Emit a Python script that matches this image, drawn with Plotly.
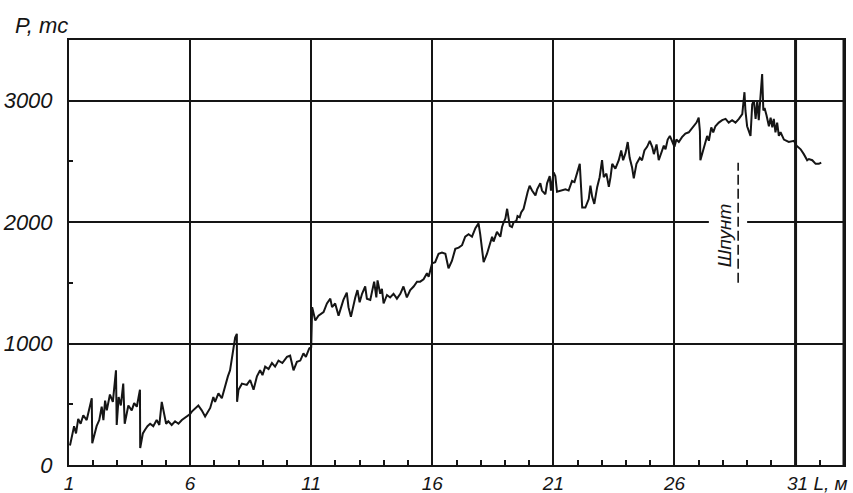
import plotly.graph_objects as go

# ---- data ----
L_m = [1.04, 1.21, 1.29, 1.38, 1.48, 1.59, 1.73, 1.94, 1.96, 2.14, 2.25, 2.35, 2.42, 2.49, 2.56, 2.69, 2.81, 2.94, 2.97,
       3.05, 3.14, 3.24, 3.30, 3.45, 3.59, 3.69, 3.80, 3.93, 3.94, 4.05, 4.14, 4.24, 4.35, 4.48, 4.62, 4.73, 4.83, 4.93,
       5.01, 5.10, 5.24, 5.38, 5.52, 5.66, 5.86, 6.00, 6.07, 6.34, 6.48, 6.62, 6.83, 6.96, 7.03, 7.17, 7.31, 7.45, 7.56,
       7.65, 7.86, 7.93, 7.94, 8.00, 8.14, 8.34, 8.48, 8.62, 8.76, 8.89, 8.99, 9.10, 9.24, 9.38, 9.51, 9.65, 9.81, 10.00,
       10.13, 10.27, 10.41, 10.55, 10.68, 10.78, 10.92, 11.00, 11.04, 11.17, 11.30, 11.51, 11.65, 11.79, 11.86, 11.99,
       12.13, 12.33, 12.47, 12.54, 12.64, 12.82, 12.91, 13.00, 13.10, 13.23, 13.30, 13.44, 13.60, 13.69, 13.74, 13.85,
       13.92, 13.99, 14.13, 14.26, 14.40, 14.54, 14.68, 14.81, 14.95, 15.09, 15.23, 15.37, 15.50, 15.64, 15.78, 15.85,
       15.99, 16.12, 16.26, 16.40, 16.54, 16.67, 16.81, 16.95, 17.09, 17.23, 17.29, 17.36, 17.50, 17.64, 17.78, 17.91,
       17.98, 18.12, 18.26, 18.40, 18.47, 18.53, 18.60, 18.67, 18.81, 18.88, 18.95, 19.02, 19.09, 19.20, 19.29, 19.36,
       19.47, 19.52, 19.61, 19.67, 19.77, 19.84, 19.94, 20.02, 20.12, 20.26, 20.33, 20.46, 20.53, 20.67, 20.74, 20.85,
       20.90, 21.01, 21.08, 21.15, 21.36, 21.50, 21.63, 21.77, 21.87, 21.98, 22.09, 22.19, 22.32, 22.46, 22.53, 22.60,
       22.69, 22.81, 22.91, 23.01, 23.08, 23.19, 23.29, 23.36, 23.43, 23.56, 23.70, 23.80, 23.88, 23.98, 24.07, 24.15,
       24.25, 24.32, 24.43, 24.57, 24.66, 24.76, 24.87, 24.98, 25.08, 25.15, 25.26, 25.35, 25.49, 25.56, 25.63, 25.72,
       25.81, 25.91, 26.00, 26.08, 26.18, 26.31, 26.45, 26.59, 26.80, 26.91, 27.00, 27.05, 27.07, 27.19, 27.28, 27.35,
       27.42, 27.52, 27.60, 27.69, 27.83, 27.97, 28.11, 28.24, 28.38, 28.52, 28.66, 28.80, 28.89, 28.93, 29.00, 29.07,
       29.14, 29.21, 29.28, 29.35, 29.42, 29.48, 29.55, 29.62, 29.67, 29.72, 29.80, 29.90, 29.97, 30.04, 30.10, 30.17,
       30.24, 30.31, 30.38, 30.52, 30.72, 30.93, 31.04, 31.21, 31.34, 31.48, 31.55, 31.69, 31.83, 31.96, 32.06]

P_tc = [160, 320, 260, 380, 340, 410, 370, 550, 180, 320, 370, 480, 370, 530, 450, 580, 520, 780, 330,
        560, 490, 670, 340, 490, 450, 510, 480, 620, 140, 260, 290, 320, 340, 320, 370, 330, 520, 430,
        340, 360, 330, 360, 340, 370, 400, 420, 440, 490, 450, 400, 470, 560, 520, 590, 550, 660, 730,
        780, 1050, 1080, 520, 620, 670, 660, 700, 620, 730, 780, 740, 810, 790, 840, 810, 860, 840, 890,
        900, 780, 850, 860, 920, 890, 960, 970, 1300, 1190, 1230, 1260, 1330, 1370, 1300, 1330,
        1230, 1360, 1420, 1300, 1220, 1380, 1440, 1340, 1410, 1470, 1370, 1360, 1510, 1380, 1520, 1410,
        1450, 1330, 1400, 1380, 1410, 1370, 1410, 1470, 1380, 1440, 1470, 1510, 1510, 1530, 1580, 1550,
        1660, 1670, 1740, 1750, 1740, 1620, 1680, 1780, 1790, 1810, 1850, 1880, 1900, 1880, 1950, 1990,
        1900, 1670, 1740, 1850, 1880, 1840, 1890, 1920, 1880, 1960, 2000, 2030, 2110, 1970, 1960, 2000,
        2010, 2050, 2040, 2080, 2110, 2180, 2250, 2300, 2260, 2220, 2270, 2320, 2260, 2230, 2320, 2380,
        2260, 2410, 2380, 2250, 2260, 2270, 2260, 2340, 2330, 2410, 2480, 2120, 2120, 2190, 2300, 2210,
        2150, 2290, 2370, 2510, 2370, 2400, 2290, 2370, 2480, 2440, 2510, 2590, 2510, 2570, 2660, 2530,
        2450, 2360, 2480, 2530, 2510, 2590, 2620, 2670, 2620, 2560, 2640, 2510, 2590, 2630, 2600, 2680,
        2710, 2660, 2620, 2680, 2660, 2700, 2730, 2740, 2790, 2820, 2860, 2750, 2510, 2600, 2680, 2710,
        2670, 2780, 2740, 2790, 2820, 2840, 2850, 2820, 2840, 2820, 2850, 2890, 3070, 2920, 2790, 2750,
        2710, 2970, 3000, 2850, 3000, 2840, 3000, 3220, 2920, 2940, 2880, 2790, 2860, 2780, 2850, 2740,
        2820, 2710, 2740, 2680, 2660, 2670, 2630, 2600, 2560, 2510, 2520, 2510, 2480, 2480, 2490]

x_tickvals = [1, 6, 11, 16, 21, 26, 31]
x_ticktext = ["1", "6", "11", "16", "21", "26", ""]
y_tickvals = [0, 1000, 2000, 3000]
y_ticktext = ["0", "1000", "2000", "3000"]
shpunt_L = 28.63
shpunt_P = [1500, 2490]

FONT = "Liberation Sans, Arial, sans-serif"
INK = "#151515"

fig = go.Figure()
fig.add_trace(go.Scatter(x=L_m, y=P_tc, mode="lines",
                         line=dict(color=INK, width=2), showlegend=False, hoverinfo="skip"))

fig.update_layout(
    width=853, height=493,
    margin=dict(l=69, r=9, t=40, b=28, autoexpand=False),
    paper_bgcolor="white", plot_bgcolor="white",
    font=dict(family=FONT, size=22, color=INK, style="italic"),
    xaxis=dict(range=[1, 33], tickvals=x_tickvals, ticktext=x_ticktext, automargin=False,
               tickfont=dict(size=19),
               showgrid=True, gridcolor=INK, gridwidth=1.5,
               showline=True, linecolor=INK, linewidth=2, mirror=True,
               ticks="inside", ticklen=0, ticklabelstandoff=0,
               minor=dict(dtick=1, tick0=1, ticks="inside", ticklen=5, tickwidth=1.5,
                          tickcolor=INK, showgrid=False),
               zeroline=False, fixedrange=True),
    yaxis=dict(range=[0, 3500], tickvals=y_tickvals, ticktext=y_ticktext, automargin=False,
               showgrid=True, gridcolor=INK, gridwidth=1.5,
               showline=True, linecolor=INK, linewidth=2, mirror=True,
               ticks="inside", ticklen=0, ticklabelstandoff=10,
               minor=dict(dtick=500, tick0=0, ticks="inside", ticklen=4, tickwidth=1.5,
                          tickcolor=INK, showgrid=False),
               zeroline=False, fixedrange=True),
)

# heavier lines at L=31 and at right border
fig.add_shape(type="line", xref="x", yref="paper", x0=31, x1=31, y0=0, y1=1,
              line=dict(color=INK, width=3), layer="above")
fig.add_shape(type="line", xref="paper", yref="paper", x0=1, x1=1, y0=0, y1=1,
              line=dict(color=INK, width=3), layer="above")

# white gap in the 2000 grid line behind the label
fig.add_shape(type="rect", xref="x", yref="y", x0=27.42, x1=29.0, y0=1960, y1=2040,
              fillcolor="white", line=dict(width=0), layer="above")
# dashed marker line
fig.add_shape(type="line", xref="x", yref="y", x0=shpunt_L, x1=shpunt_L,
              y0=shpunt_P[0], y1=shpunt_P[1],
              line=dict(color=INK, width=1.6, dash="10px,4px"), layer="above")

fig.add_annotation(text="Шпунт", x=shpunt_L - 0.55, y=1890, xref="x", yref="y",
                   textangle=-90, showarrow=False,
                   font=dict(family=FONT, size=19, color=INK, style="italic"))
fig.add_annotation(text="P, тс", x=-0.035, y=1.035, xref="paper", yref="paper",
                   xanchor="center", yanchor="middle", showarrow=False,
                   font=dict(family=FONT, size=22, color=INK, style="italic"))
fig.add_annotation(text="31 L, м", x=1.008, y=-0.043, xref="paper", yref="paper",
                   xanchor="right", yanchor="middle", showarrow=False,
                   font=dict(family=FONT, size=19, color=INK, style="italic"))

fig.write_html("out.html", config={"displayModeBar": False})

# remove the browser's default 8px page margin so the figure fills the window exactly
with open("out.html", "r", encoding="utf-8") as f:
    html = f.read()
html = html.replace("<head>", "<head><style>html,body{margin:0;padding:0;overflow:hidden;}</style>", 1)
with open("out.html", "w", encoding="utf-8") as f:
    f.write(html)
